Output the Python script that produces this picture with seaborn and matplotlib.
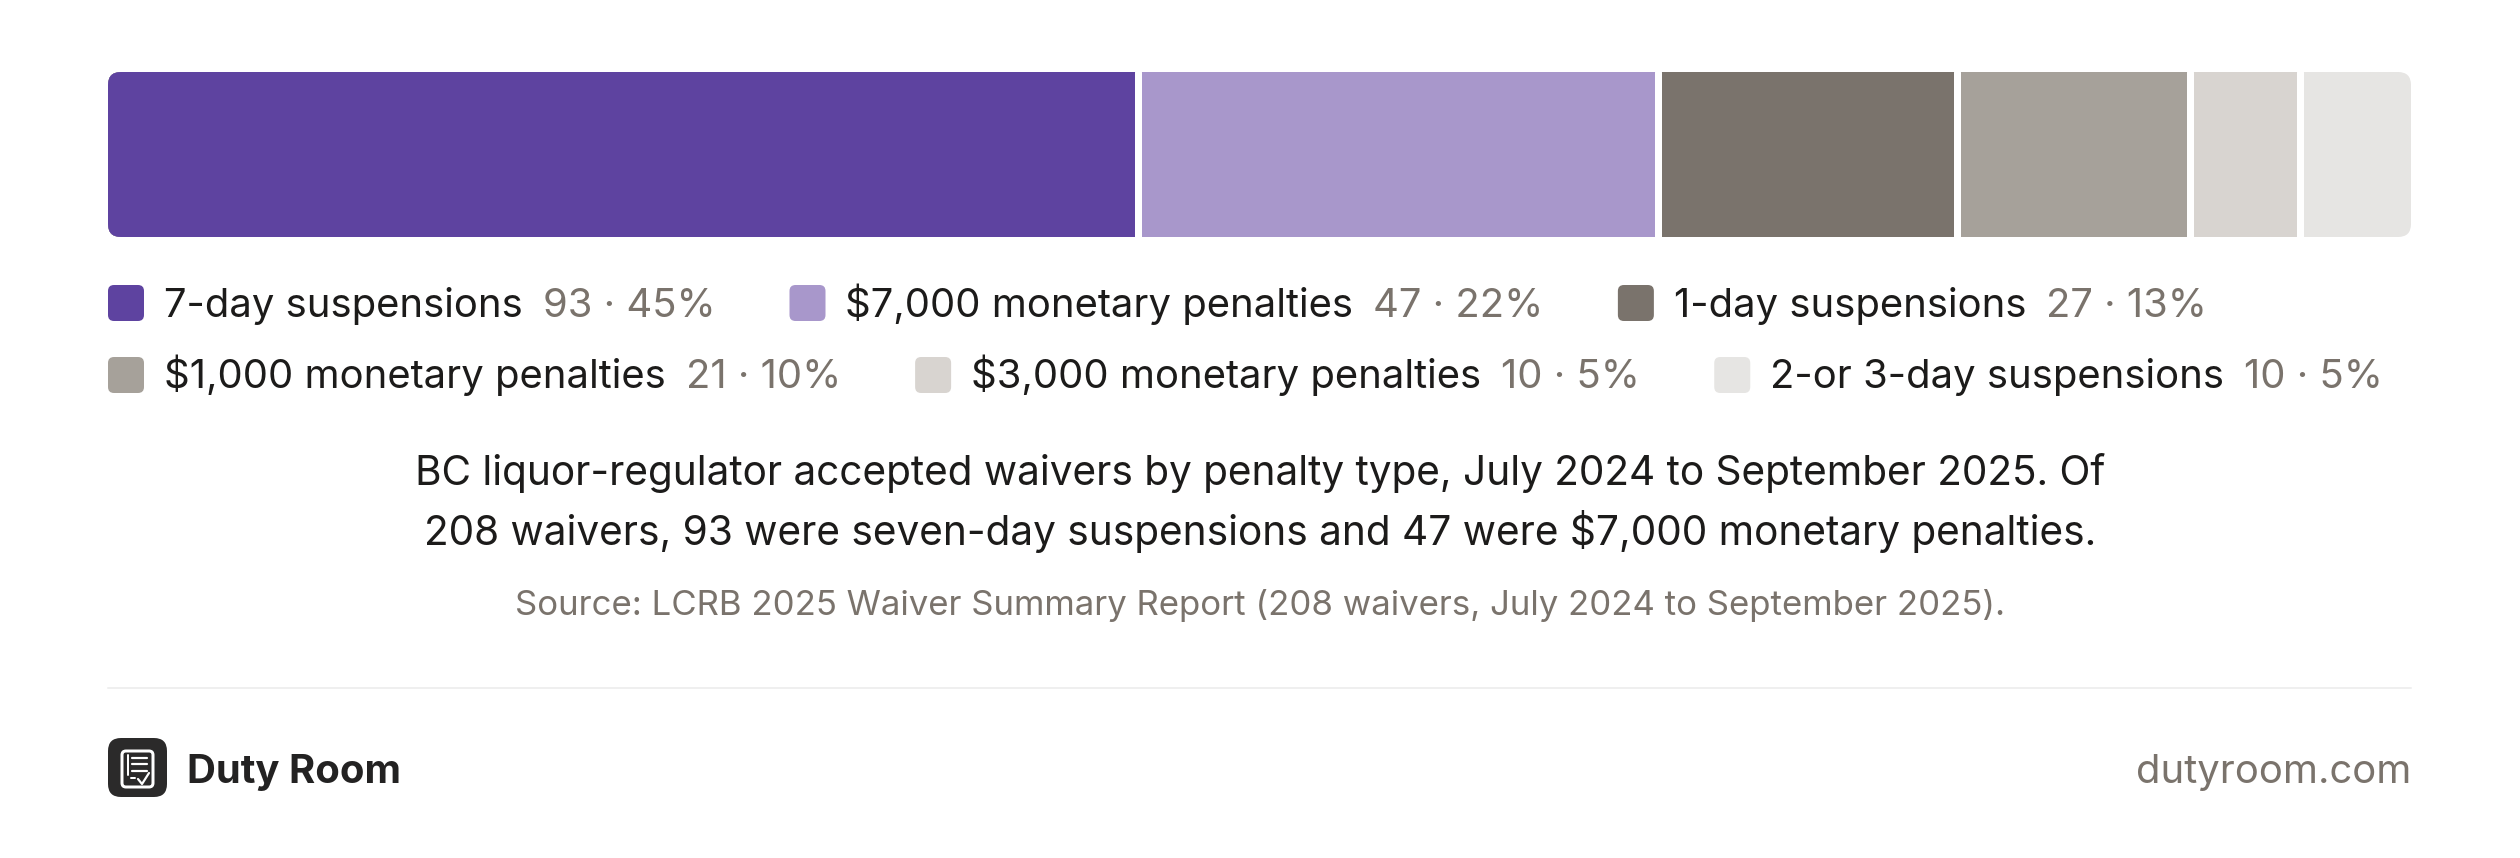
import numpy as np
import pandas as pd
import matplotlib
matplotlib.use('Agg')
import matplotlib.pyplot as plt
import seaborn as sns
from matplotlib.patches import FancyBboxPatch
from matplotlib.lines import Line2D

# penalty types and accepted waivers (LCRB 2025 summary)
categories = ['7-day suspensions', '$7,000 monetary penalties', '1-day suspensions',
              '$1,000 monetary penalties', '$3,000 monetary penalties', '2-or 3-day suspensions']
counts = [93, 47, 27, 21, 10, 10]
shares = [45, 22, 13, 10, 5, 5]
colors = ['#5E43A0', '#A897CB', '#7A736C', '#A6A19A', '#D8D4D0', '#E6E5E3']

caption_lines = ['BC liquor-regulator accepted waivers by penalty type, July 2024 to September 2025. Of',
                 '208 waivers, 93 were seven-day suspensions and 47 were $7,000 monetary penalties.']
source = 'Source: LCRB 2025 Waiver Summary Report (208 waivers, July 2024 to September 2025).'

sns.set_theme(style='white')
plt.rcParams['font.family'] = ['Inter', 'DejaVu Sans']
plt.rcParams['text.parse_math'] = False

W, H = 2520, 858
INK = '#1C1B1A'
GREY = '#7A736C'

fig = plt.figure(figsize=(W / 100, H / 100), dpi=100)
fig.patch.set_facecolor('white')


def fx(x):
    return x / W


def fy(y):
    return (H - y) / H


def pt(px):
    return px * 0.72


def rbox(x, y, w, h, r, **kw):
    # rounded box in pixel units (top-left origin), drawn in inches so corners stay round
    return FancyBboxPatch((x / 100, (H - y - h) / 100), w / 100, h / 100,
                          boxstyle=f'round,pad=0,rounding_size={r / 100}',
                          transform=fig.dpi_scale_trans, **kw)


# ---- stacked bar ----
bar_l, bar_t, bar_w, bar_h = 108, 72, 2303, 165
ax = fig.add_axes([fx(bar_l), fy(bar_t + bar_h), bar_w / W, bar_h / H])

df = pd.DataFrame({'category': categories,
                   'cum': np.cumsum(counts),
                   'row': ['all'] * len(categories)})
sns.barplot(data=df, x='cum', y='row', hue='category', hue_order=categories[::-1],
            palette=dict(zip(categories, colors)), dodge=False, width=1.0,
            orient='h', errorbar=None, saturation=1, legend=False, ax=ax)

clip = rbox(bar_l, bar_t, bar_w, bar_h, 13, facecolor='none', edgecolor='none')
for p in ax.patches:
    p.set_zorder(10 - p.get_width() / 1000)
    p.set_clip_path(clip)
    p.set_edgecolor('none')

for b in np.cumsum(counts)[:-1]:
    ln = ax.axvline(b, color='white', lw=pt(7), zorder=20)
    ln.set_clip_path(clip)

ax.set_xlim(0, sum(counts))
ax.set_ylim(0.5, -0.5)
ax.axis('off')

# ---- legend, three items per row ----
renderer = fig.canvas.get_renderer()
leg_size = pt(40)
rows = [(317, 303), (388, 375)]
for r, (base, mid) in enumerate(rows):
    x = 108
    for i in range(r * 3, r * 3 + 3):
        fig.add_artist(rbox(x, mid - 18, 36, 36, 6, facecolor=colors[i], edgecolor='none'))
        t1 = fig.text(fx(x + 56), fy(base), categories[i], fontsize=leg_size,
                      color=INK, va='baseline', ha='left')
        w1 = t1.get_window_extent(renderer).width
        t2 = fig.text(fx(x + 56 + w1 + 20), fy(base), f'{counts[i]} · {shares[i]}%',
                      fontsize=leg_size, color=GREY, va='baseline', ha='left')
        w2 = t2.get_window_extent(renderer).width
        x = x + 56 + w1 + 20 + w2 + 74

# ---- caption and source ----
for line, base in zip(caption_lines, [485, 545]):
    fig.text(0.5, fy(base), line, fontsize=pt(40.6), color=INK, ha='center', va='baseline')
fig.text(0.5, fy(615), source, fontsize=pt(34.8), color=GREY, ha='center', va='baseline')

fig.add_artist(Line2D([fx(108), fx(2411)], [fy(688), fy(688)], color='#EFEFEF', lw=pt(2)))

# ---- footer ----
fig.add_artist(rbox(108, 738, 59, 59, 13, facecolor='#2B2A2A', edgecolor='none'))
fig.add_artist(rbox(122, 751, 31, 36, 4, facecolor='none', edgecolor='white', lw=pt(3)))
for yy in [758, 764, 771]:
    fig.add_artist(Line2D([fx(132), fx(147)], [fy(yy), fy(yy)], color='white', lw=pt(2.2)))
fig.add_artist(Line2D([fx(128), fx(128)], [fy(755), fy(775)], color='white', lw=pt(2)))
fig.add_artist(Line2D([fx(131), fx(135)], [fy(778), fy(778)], color='white', lw=pt(2)))
fig.add_artist(Line2D([fx(138), fx(142), fx(149)], [fy(779), fy(784), fy(773)],
                      color='white', lw=pt(2.2)))

fig.text(fx(187), fy(783), 'Duty Room', fontsize=pt(40), fontweight='bold',
         color='#232222', ha='left', va='baseline')
fig.text(fx(2411), fy(783), 'dutyroom.com', fontsize=pt(40), color=GREY,
         ha='right', va='baseline')

fig.savefig('out.png', dpi=100, facecolor='white')
